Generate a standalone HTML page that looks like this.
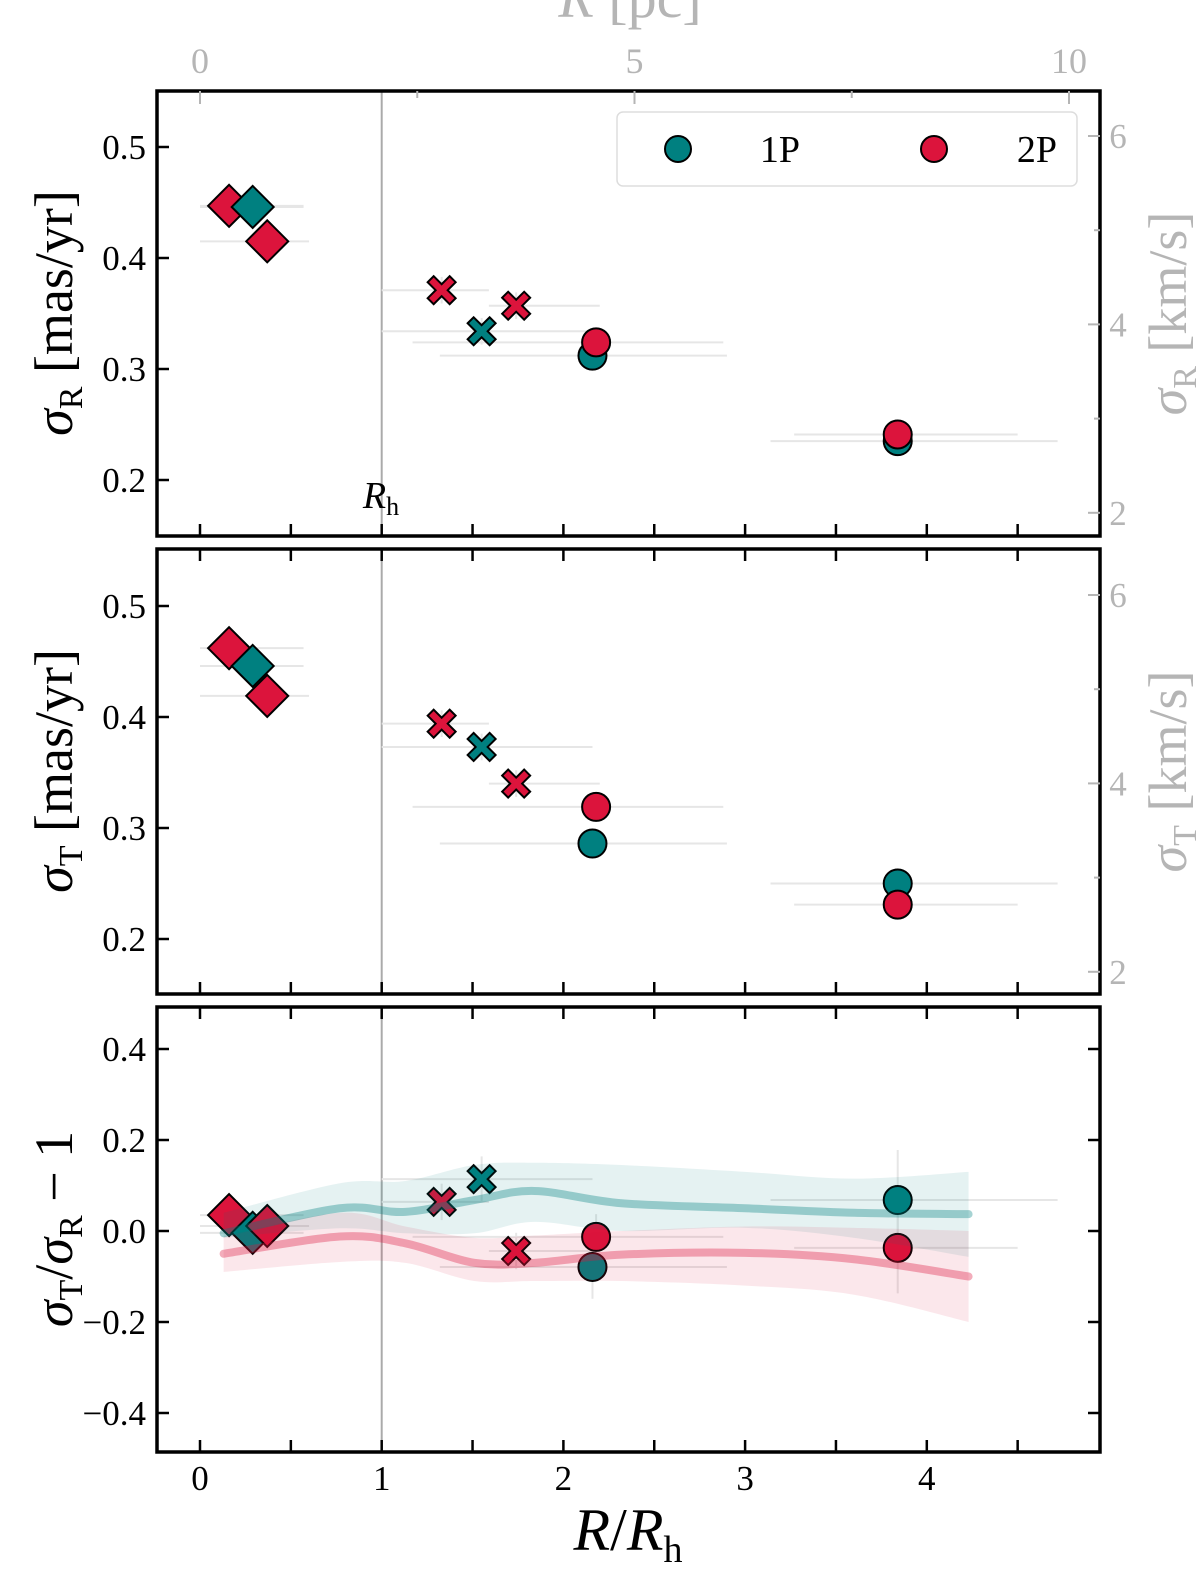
<!DOCTYPE html>
<html><head><meta charset="utf-8"><style>
html,body{margin:0;padding:0;background:#fff;}
svg{display:block;font-family:"Liberation Serif",serif;}
</style></head><body>
<svg id="fig" width="1200" height="1569" viewBox="0 0 1200 1569" xmlns="http://www.w3.org/2000/svg">
<defs>
<clipPath id="c1"><rect x="157" y="91" width="943" height="445"/></clipPath>
<clipPath id="c2"><rect x="157" y="549" width="943" height="445"/></clipPath>
<clipPath id="c3"><rect x="157" y="1007" width="943" height="445"/></clipPath>
</defs>
<g id="root"></g>
</svg>
<script>
// ---- data ----
const pointX = [0.16, 0.29, 0.37, 1.33, 1.55, 1.74, 2.16, 2.18, 3.84, 3.84];
const pointPop = ['2P','1P','2P','2P','1P','2P','1P','2P','1P','2P'];
const pointShape = ['d','d','d','x','x','x','o','o','o','o'];
const xErrLo = [0.0, 0.0, 0.0, 1.0, 1.0, 1.59, 1.32, 1.17, 3.14, 3.27];
const xErrHi = [0.57, 0.57, 0.6, 1.59, 2.16, 2.2, 2.9, 2.88, 4.72, 4.5];
const sigmaR = [0.447, 0.446, 0.415, 0.371, 0.334, 0.357, 0.312, 0.324, 0.235, 0.241];
const sigmaT = [0.462, 0.446, 0.419, 0.394, 0.373, 0.340, 0.286, 0.319, 0.250, 0.231];
const ratio = [0.035, -0.004, 0.011, 0.064, 0.114, -0.044, -0.079, -0.013, 0.068, -0.037];
const ratioErr = [0.02, 0.02, 0.02, 0.04, 0.05, 0.04, 0.07, 0.05, 0.11, 0.1];
const curveX = [0.13, 0.77, 1.13, 1.51, 1.84, 2.32, 3.0, 3.6, 4.23];
const teal1P = [-0.005, 0.05, 0.042, 0.068, 0.088, 0.061, 0.05, 0.04, 0.037];
const teal1PHi = [0.04, 0.105, 0.11, 0.145, 0.15, 0.145, 0.13, 0.115, 0.13];
const teal1PLo = [-0.015, 0.006, -0.005, -0.005, 0.02, 0.0, 0.007, -0.015, -0.057];
const red2P = [-0.05, -0.012, -0.027, -0.07, -0.07, -0.052, -0.048, -0.062, -0.1];
const red2PHi = [-0.012, 0.04, 0.01, -0.015, -0.01, 0.0, 0.01, 0.007, 0.0];
const red2PLo = [-0.09, -0.068, -0.07, -0.11, -0.11, -0.11, -0.12, -0.14, -0.2];
const xTicks = [0, 1, 2, 3, 4];
const pcTicks = [0, 5, 10];
const sigTicks = [0.2, 0.3, 0.4, 0.5];
const ratioTicks = [-0.4, -0.2, 0.0, 0.2, 0.4];
const kmsTicks = [2, 4, 6];

// ---- scales ----
const X0 = 157, X1 = 1100;
const xs = v => 200 + v * 181.7;
const pcS = v => 200 + v * 86.9;
const y1 = v => 147 + (0.5 - v) * 1110;
const y2 = v => 606 + (0.5 - v) * 1110;
const y3 = v => 1231 - v * 455;
const k1 = v => 136 + (6 - v) * 94.2;
const k2 = v => 595 + (6 - v) * 94.2;
const panels = [{top:91,bot:536},{top:549,bot:994},{top:1007,bot:1452}];
const col = {'1P':'#008080','2P':'#dc143c'};
const NS = 'http://www.w3.org/2000/svg';
const root = document.getElementById('root');
function mk(tag, attrs, parent){
  const e = document.createElementNS(NS, tag);
  for (const k in attrs) e.setAttribute(k, attrs[k]);
  (parent || root).appendChild(e);
  return e;
}
function txt(s, x, y, size, fill, anchor, parent){
  const t = mk('text', {x:x, y:y, 'font-size':size, fill:fill, 'text-anchor':anchor||'middle'}, parent);
  t.textContent = s;
  return t;
}
function smooth(pts, start){
  let d = (start?'M':'L') + pts[0][0] + ',' + pts[0][1];
  for (let i=0;i<pts.length-1;i++){
    const p0 = pts[Math.max(i-1,0)], p1 = pts[i], p2 = pts[i+1], p3 = pts[Math.min(i+2,pts.length-1)];
    const c1x = p1[0] + (p2[0]-p0[0])/6, c1y = p1[1] + (p2[1]-p0[1])/6;
    const c2x = p2[0] - (p3[0]-p1[0])/6, c2y = p2[1] - (p3[1]-p1[1])/6;
    d += ` C${c1x},${c1y} ${c2x},${c2y} ${p2[0]},${p2[1]}`;
  }
  return d;
}

panels.forEach((p,i)=>{
  const l = mk('line',{x1:xs(1),x2:xs(1),y1:p.top,y2:p.bot,stroke:'#aaa','stroke-width':2});
  
  
});

const g3 = mk('g',{'clip-path':'url(#c3)'});


function band(hi, lo, c, name){
  const top = curveX.map((x,i)=>[xs(x), y3(hi[i])]);
  const bot = curveX.map((x,i)=>[xs(x), y3(lo[i])]).reverse();
  const d = smooth(top, true) + ' ' + smooth(bot, false) + ' Z';
  const b = mk('path',{d:d,fill:c,'fill-opacity':0.1,stroke:'none'},g3);
  
  
}
band(teal1PHi, teal1PLo, col['1P'], 'band-1p');
band(red2PHi, red2PLo, col['2P'], 'band-2p');

function errs(vals, ys, clip, pname){
  const g = mk('g',{'clip-path':clip});
  
  
  vals.forEach((v,i)=>{
    mk('line',{x1:xs(xErrLo[i]),x2:xs(xErrHi[i]),y1:ys(v),y2:ys(v),stroke:'#e6e6e6','stroke-width':2},g);
    const ve = pname==='ratio' ? ratioErr[i] : 0.012;
    mk('line',{x1:xs(pointX[i]),x2:xs(pointX[i]),y1:ys(v-ve),y2:ys(v+ve),stroke:'#e6e6e6','stroke-width':2},g);
  });
}
errs(sigmaR, y1, 'url(#c1)', 'sigma-r');
errs(sigmaT, y2, 'url(#c2)', 'sigma-t');
errs(ratio, y3, 'url(#c3)', 'ratio');

function marker(shape, cx, cy, c, parent){
  let e;
  if (shape==='d'){
    const r=21;
    e = mk('polygon',{points:`${cx},${cy-r} ${cx+r},${cy} ${cx},${cy+r} ${cx-r},${cy}`,fill:c,stroke:'#000','stroke-width':2},parent);
  } else if (shape==='o'){
    e = mk('circle',{cx:cx,cy:cy,r:14,fill:c,stroke:'#000','stroke-width':2},parent);
  } else {
    const P=[[-14,-8],[-8,-14],[0,-6],[8,-14],[14,-8],[6,0],[14,8],[8,14],[0,6],[-8,14],[-14,8],[-6,0]];
    e = mk('polygon',{points:P.map(q=>(cx+q[0])+','+(cy+q[1])).join(' '),fill:c,stroke:'#000','stroke-width':2},parent);
  }
  return e;
}
function drawPoints(vals, ys, clip, pname){
  const g = mk('g',{'clip-path':clip});
  
  
  vals.forEach((v,i)=>{
    const m = marker(pointShape[i], xs(pointX[i]), ys(v), col[pointPop[i]], g);
    
    
  });
}
drawPoints(sigmaR, y1, 'url(#c1)', 'sigma-r');
drawPoints(sigmaT, y2, 'url(#c2)', 'sigma-t');
drawPoints(ratio, y3, 'url(#c3)', 'ratio');

root.appendChild(g3);
function curve(vals, c, name){
  const l = mk('path',{d:smooth(curveX.map((x,i)=>[xs(x), y3(vals[i])]), true),fill:'none',stroke:c,'stroke-opacity':0.35,'stroke-width':8,'stroke-linecap':'round'},g3);
  
  
}
curve(teal1P, col['1P'], 'curve-1p');
curve(red2P, col['2P'], 'curve-2p');

panels.forEach((p,pi)=>{
  const g = mk('g',{});
  
  
  for (let v=0; v<=4.5+1e-9; v+=0.5){
    mk('line',{x1:xs(v),x2:xs(v),y1:p.bot,y2:p.bot-12,stroke:'#000','stroke-width':2.5},g);
    if (pi>0) mk('line',{x1:xs(v),x2:xs(v),y1:p.top,y2:p.top+12,stroke:'#000','stroke-width':2.5},g);
  }
  const yt = pi===2 ? ratioTicks : sigTicks;
  const ys = [y1,y2,y3][pi];
  yt.forEach(v=>{
    mk('line',{x1:X0,x2:X0+12,y1:ys(v),y2:ys(v),stroke:'#000','stroke-width':2.5},g);
    if (pi===2) mk('line',{x1:X1,x2:X1-12,y1:ys(v),y2:ys(v),stroke:'#000','stroke-width':2.5},g);
  });
  mk('rect',{x:X0,y:p.top,width:X1-X0,height:p.bot-p.top,fill:'none',stroke:'#000','stroke-width':3.5},g);
});

const gt = mk('g',{});


for (let v=0; v<=10; v+=2.5){
  mk('line',{x1:pcS(v),x2:pcS(v),y1:91,y2:v%5===0?104:98,stroke:'#b5b5b5','stroke-width':2},gt);
}
pcTicks.forEach(v=>{ const t=txt(String(v), pcS(v), 73, 36, '#b5b5b5','middle',gt);
    });
const ttl = mk('text',{x:630,y:17,'font-size':58,fill:'#b5b5b5','text-anchor':'middle'});
ttl.innerHTML = '<tspan font-style="italic">R</tspan> [pc]';



[[k1,91,536,'R'],[k2,549,994,'T']].forEach((a,i)=>{
  const g = mk('g',{});
  
  
  kmsTicks.forEach(v=>{
    mk('line',{x1:X1,x2:X1-12,y1:a[0](v),y2:a[0](v),stroke:'#b5b5b5','stroke-width':2},g);
    txt(String(v), 1118, a[0](v)+12, 35, '#b5b5b5','middle',g);
  });
  [3,5].forEach(v=>mk('line',{x1:X1,x2:X1-6,y1:a[0](v),y2:a[0](v),stroke:'#b5b5b5','stroke-width':2},g));
  const cy=(a[1]+a[2])/2;
  const t = mk('text',{x:0,y:0,'font-size':54,fill:'#b5b5b5','text-anchor':'middle',transform:`translate(1186,${cy}) rotate(-90)`},g);
  t.innerHTML = '<tspan font-style="italic">σ</tspan><tspan font-size="34" dy="10">'+a[3]+'</tspan><tspan dy="-10"> [km/s]</tspan>';
});

[[y1,sigTicks],[y2,sigTicks],[y3,ratioTicks]].forEach((a,i)=>{
  a[1].forEach(v=>{
    const s = i===2 ? (v<0?'−':'')+Math.abs(v).toFixed(1) : v.toFixed(1);
    const t = txt(s, 146, a[0](v)+12, 35, '#000','end');
    
    
  });
});
xTicks.forEach(v=>{ const t=txt(String(v), xs(v), 1490, 35, '#000');
    });

function ytitle(html, cy, name){
  const t = mk('text',{x:0,y:0,'font-size':54,fill:'#000','text-anchor':'middle',transform:`translate(72,${cy}) rotate(-90)`});
  t.innerHTML = html;
  
  
}
ytitle('<tspan font-style="italic">σ</tspan><tspan font-size="34" dy="10">R</tspan><tspan dy="-10"> [mas/yr]</tspan>', 313, 'y-axis-title-sigma-r');
ytitle('<tspan font-style="italic">σ</tspan><tspan font-size="34" dy="10">T</tspan><tspan dy="-10"> [mas/yr]</tspan>', 771, 'y-axis-title-sigma-t');
ytitle('<tspan font-style="italic">σ</tspan><tspan font-size="34" dy="10">T</tspan><tspan dy="-10">/</tspan><tspan font-style="italic">σ</tspan><tspan font-size="34" dy="10">R</tspan><tspan dy="-10"> − 1</tspan>', 1229, 'y-axis-title-ratio');

const xt = mk('text',{x:628,y:1550,'font-size':60,fill:'#000','text-anchor':'middle'});
xt.innerHTML = '<tspan font-style="italic">R</tspan>/<tspan font-style="italic">R</tspan><tspan font-size="38" dy="12">h</tspan>';



const rh = mk('text',{x:381,y:508,'font-size':38,fill:'#000','text-anchor':'middle'});
rh.innerHTML = '<tspan font-style="italic">R</tspan><tspan font-size="26" dy="7">h</tspan>';



const lg = mk('g',{});


mk('rect',{x:617,y:112,width:460,height:74,rx:6,fill:'#fff','fill-opacity':0.85,stroke:'#ddd','stroke-width':1.5},lg);
const le1 = mk('circle',{cx:678,cy:149,r:13,fill:col['1P'],stroke:'#000','stroke-width':2},lg);


txt('1P', 780, 162, 38, '#000','middle',lg);
const le2 = mk('circle',{cx:934,cy:149,r:13,fill:col['2P'],stroke:'#000','stroke-width':2},lg);


txt('2P', 1037, 162, 38, '#000','middle',lg);
</script>
</body></html>
